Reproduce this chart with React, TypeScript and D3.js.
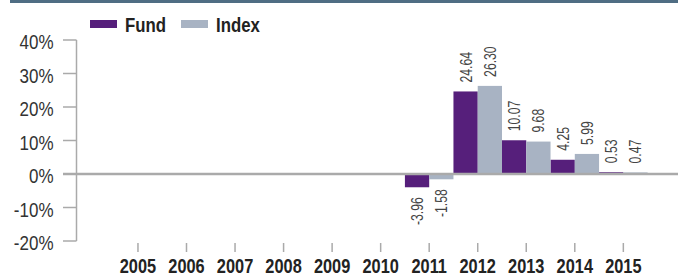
import React from "react";
import * as d3 from "d3";

const years = ["2005", "2006", "2007", "2008", "2009", "2010", "2011", "2012", "2013", "2014", "2015"];
const fundValues: (number | null)[] = [null, null, null, null, null, null, -3.96, 24.64, 10.07, 4.25, 0.53];
const indexValues: (number | null)[] = [null, null, null, null, null, null, -1.58, 26.3, 9.68, 5.99, 0.47];
const yTicks = [40, 30, 20, 10, 0, -10, -20];
const seriesNames = ["Fund", "Index"];
const seriesColors = ["#561f7b", "#a8b3c3"];

const W = 678;
const H = 277;
const FONT = "'Liberation Sans', Arial, sans-serif";

export default function App() {
  const x = d3.scaleBand<string>().domain(years).range([113.7, 647.6]).padding(0);
  const inner = d3.scaleBand<string>().domain(seriesNames).range([0, x.bandwidth()]).padding(0);
  const y = d3.scaleLinear().domain([-20, 40]).range([241, 40]);
  const fmt = (v: number) => v.toFixed(2);
  const series = [fundValues, indexValues];
  const y0 = y(0);

  return (
    <svg
      width={W}
      height={H}
      style={{ position: "fixed", left: 0, top: 0, background: "#fff" }}
      fontFamily={FONT}
    >
      <rect x={10} y={0} width={668} height={3} fill="#4f6d83" />

      {/* legend */}
      {seriesNames.map((name, i) => {
        const lx = [90, 181][i];
        return (
          <g key={name}>
            <rect x={lx} y={20} width={27} height={8} fill={seriesColors[i]} />
            <text
              transform={`translate(${lx + 35},31.5) scale(0.84,1)`}
              fontSize={20}
              fontWeight="bold"
              fill="#222"
            >
              {name}
            </text>
          </g>
        );
      })}

      {/* y axis */}
      <line x1={76.5} x2={76.5} y1={y(40)} y2={y(-20)} stroke="#aaa" strokeWidth={1.5} />
      {yTicks.map((t) => (
        <g key={t}>
          {t !== 0 && <line x1={63} x2={76.5} y1={y(t)} y2={y(t)} stroke="#aaa" strokeWidth={1.5} />}
          <text
            transform={`translate(53.5,${y(t) + 9}) scale(0.85,1)`}
            textAnchor="end"
            fontSize={20}
            fill="#333"
          >
            {t}%
          </text>
        </g>
      ))}

      {/* bars */}
      {series.map((vals, si) =>
        vals.map((v, i) => {
          if (v === null) return null;
          const bx = (x(years[i]) as number) + (inner(seriesNames[si]) as number);
          const bw = inner.bandwidth();
          const top = Math.min(y(v), y0);
          const h = Math.abs(y(v) - y0);
          return <rect key={`${si}-${i}`} x={bx} y={top} width={bw} height={h} fill={seriesColors[si]} />;
        })
      )}

      {/* zero line */}
      <line x1={63} x2={W} y1={y0} y2={y0} stroke="#aaa" strokeWidth={2.5} />

      {/* data labels */}
      {series.map((vals, si) =>
        vals.map((v, i) => {
          if (v === null) return null;
          const fs = 16.5;
          const cx = (x(years[i]) as number) + (inner(seriesNames[si]) as number) + inner.bandwidth() / 2;
          const tx = cx + fs * 0.36;
          const pos = v >= 0;
          const ty = pos ? y(v) - 9 : y(v) + 10;
          return (
            <text
              key={`l${si}-${i}`}
              transform={`translate(${tx},${ty}) rotate(-90) scale(0.74,1)`}
              textAnchor={pos ? "start" : "end"}
              fontSize={fs}
              fill="#444"
            >
              {fmt(v)}
            </text>
          );
        })
      )}

      {/* x axis ticks and labels */}
      {years.map((yr) => {
        const cx = (x(yr) as number) + x.bandwidth() / 2;
        return (
          <g key={yr}>
            <line x1={cx} x2={cx} y1={243} y2={252} stroke="#aaa" strokeWidth={1.5} />
            <text
              transform={`translate(${cx},272.5) scale(0.84,1)`}
              textAnchor="middle"
              fontSize={19.5}
              fontWeight="bold"
              fill="#222"
            >
              {yr}
            </text>
          </g>
        );
      })}
    </svg>
  );
}
